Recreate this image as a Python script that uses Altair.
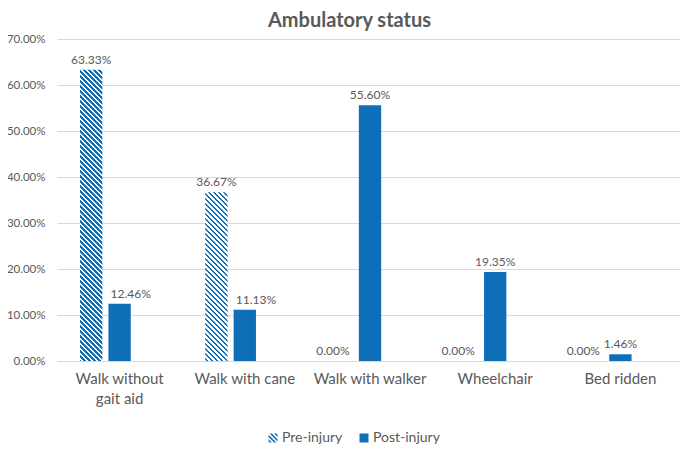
import altair as alt
import pandas as pd

# ---------------- data ----------------
categories = ["Walk without gait aid", "Walk with cane", "Walk with walker", "Wheelchair", "Bed ridden"]
series = ["Pre-injury", "Post-injury"]
pre_injury = [63.33, 36.67, 0.00, 0.00, 0.00]
post_injury = [12.46, 11.13, 55.60, 19.35, 1.46]
y_ticks = [0, 10, 20, 30, 40, 50, 60, 70]

# ---------------- style ----------------
BLUE = "#0F6EB8"
GRAY = "#595959"
GRID = "#D9D9D9"
FONT = "Lato"
W, H = 623, 322
X_RANGE = 626
Y_MAX = 70
BAR_W = 22.3
HATCH_PERIOD = 5.0
HATCH_DUTY = 0.5

rows = []
for c, a, b in zip(categories, pre_injury, post_injury):
    rows.append({"Category": c, "Series": series[0], "Value": a})
    rows.append({"Category": c, "Series": series[1], "Value": b})
df = pd.DataFrame(rows)


def hatch_gradient(h, w=BAR_W, period=HATCH_PERIOD, duty=HATCH_DUTY):
    """Linear gradient drawing '\\' stripes at 45 degrees on a w x h rect."""
    import math
    k = (h + w) / (w * w + h * h)
    span = h + w

    def color_at(f):
        m = (f % period) / period
        return BLUE if m < duty else "white"

    bounds = []
    kmin = int(math.floor(-w / period)) - 1
    kmax = int(math.ceil(h / period)) + 1
    for i in range(kmin, kmax + 1):
        for f in (i * period, i * period + duty * period):
            if -w < f < h:
                bounds.append(f)
    bounds.sort()
    stops = [{"offset": 0.0, "color": color_at(-w + 1e-6)}]
    for f in bounds:
        t = round((f + w) / span, 6)
        stops.append({"offset": t, "color": color_at(f - 1e-6)})
        stops.append({"offset": t, "color": color_at(f + 1e-6)})
    stops.append({"offset": 1.0, "color": color_at(h - 1e-6)})
    return {
        "gradient": "linear",
        "x1": 1, "y1": 0,
        "x2": round(1 - k * w, 6), "y2": round(k * h, 6),
        "stops": stops,
    }


def hatch_symbol_path(centers=(-1.5, -0.5, 0.5, 1.5), half=0.25):
    def clip(poly, a, b, c):
        # keep a*x + b*y <= c
        out = []
        n = len(poly)
        for i in range(n):
            p, q = poly[i], poly[(i + 1) % n]
            vp = a * p[0] + b * p[1] - c
            vq = a * q[0] + b * q[1] - c
            if vp <= 0:
                out.append(p)
            if (vp < 0 < vq) or (vq < 0 < vp):
                t = vp / (vp - vq)
                out.append((p[0] + t * (q[0] - p[0]), p[1] + t * (q[1] - p[1])))
        return out

    parts = []
    for cc in centers:
        poly = [(-1, -1), (1, -1), (1, 1), (-1, 1)]
        poly = clip(poly, -1, 1, cc + half)   # y - x <= cc + half
        poly = clip(poly, 1, -1, -(cc - half))  # y - x >= cc - half
        if len(poly) >= 3:
            parts.append("M" + "L".join(f"{x:.3f},{y:.3f}" for x, y in poly) + "Z")
    return "".join(parts)


# fill: solid blue, hatched for non-zero pre-injury bars
conditions = []
for c, v in zip(categories, pre_injury):
    if v > 0:
        h = v / Y_MAX * H
        conditions.append({
            "test": f"datum.Series === '{series[0]}' && datum.Category === '{c}'",
            "value": hatch_gradient(h),
        })

x_enc = alt.X(
    "Category:N", sort=categories,
    scale=alt.Scale(paddingInner=0, paddingOuter=0, range=[0, X_RANGE]),
    axis=alt.Axis(
        title=None, ticks=False, domainColor=GRID, labelAngle=0,
        labelFont=FONT, labelFontSize=15, labelColor=GRAY, labelPadding=10,
        labelLineHeight=20,
        labelExpr="datum.label == 'Walk without gait aid' ? ['Walk without', 'gait aid'] : datum.label",
    ),
)
xoff_enc = alt.XOffset(
    "Series:N",
    scale=alt.Scale(domain=series + ["(gap)"], paddingInner=0.214, paddingOuter=0.81),
)
y_enc = alt.Y(
    "Value:Q",
    scale=alt.Scale(domain=[0, Y_MAX], nice=False),
    axis=alt.Axis(
        title=None, values=y_ticks, domain=False, ticks=False,
        gridColor=GRID, labelFont=FONT, labelFontSize=11.5, labelColor=GRAY,
        labelPadding=12, labelExpr="format(datum.value, '.2f') + '%'",
    ),
)

base = alt.Chart(df)

bars = base.mark_bar(strokeWidth=0).encode(
    x=x_enc, xOffset=xoff_enc, y=y_enc,
    fill=alt.value(BLUE, condition=conditions),
)

# labels of the shorter bar in a pair are moved aside, away from the taller one
label_base = base.transform_joinaggregate(
    MaxV="max(Value)", groupby=["Category"]
).transform_calculate(
    Label="format(datum.Value, '.2f') + '%'",
    Side=(
        "datum.Value < datum.MaxV ? "
        f"(datum.Series === '{series[1]}' ? 'right' : 'left') : 'center'"
    ),
)


def label_layer(side, align, dx):
    return label_base.transform_filter(f"datum.Side === '{side}'").mark_text(
        dy=-10, dx=dx, align=align, font=FONT, fontSize=12, color=GRAY, baseline="middle"
    ).encode(x=x_enc, xOffset=xoff_enc, y=y_enc, text="Label:N")


labels_c = label_layer("center", "center", 0)
labels_r = label_layer("right", "left", -9)
labels_l = label_layer("left", "right", 8)

legend_pts = base.mark_point(filled=True, opacity=0, fill=BLUE, size=1).encode(
    x=x_enc, xOffset=xoff_enc, y=y_enc,
    shape=alt.Shape(
        "Series:N",
        scale=alt.Scale(domain=series, range=[hatch_symbol_path(), "square"]),
        legend=alt.Legend(
            title=None, orient="none", direction="horizontal",
            legendX=209, legendY=392, symbolSize=81, symbolOpacity=1,
            symbolStrokeWidth=0, symbolFillColor=BLUE,
            labelFont=FONT, labelFontSize=14, labelColor=GRAY,
            columnPadding=14, labelOffset=2, padding=0,
        ),
    ),
)

chart = alt.layer(bars, labels_c, labels_r, labels_l, legend_pts).properties(
    width=W, height=H,
    title=alt.Title(
        "Ambulatory status", font=FONT, fontSize=20, fontWeight="bold",
        color=GRAY, anchor="middle", dx=-19, offset=2,
    ),
    autosize=alt.AutoSizeParams(type="none"),
    padding={"left": 49, "top": 31, "right": 0, "bottom": 85},
).configure_view(stroke=None)

chart.save("out.html", embed_options={"renderer": "svg", "actions": False})
